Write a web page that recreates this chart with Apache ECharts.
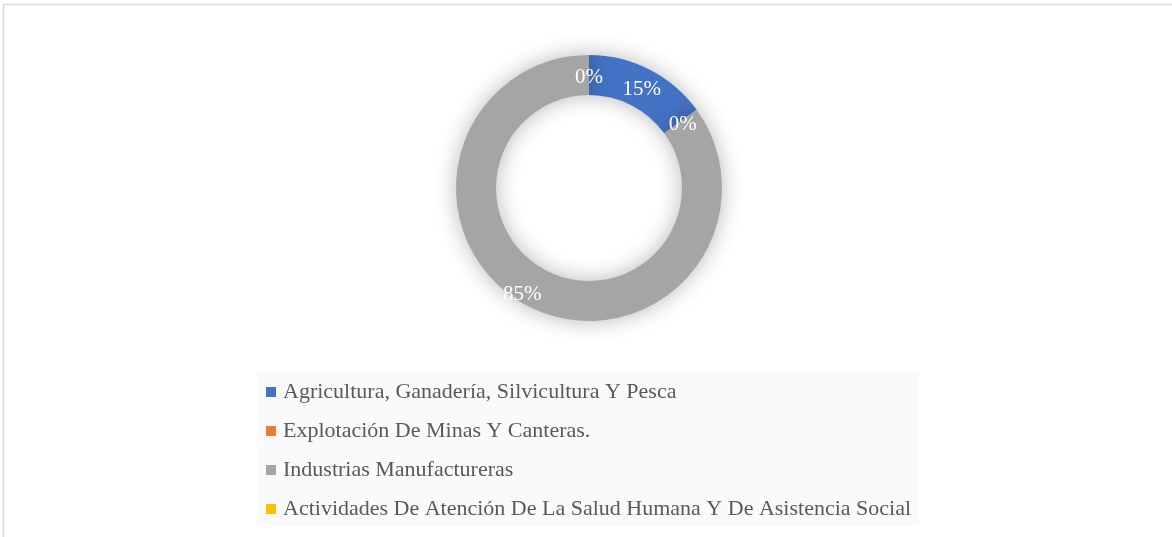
<!DOCTYPE html>
<html><head><meta charset="utf-8">
<script src="https://cdn.jsdelivr.net/npm/echarts@6/dist/echarts.min.js"></script>
<style>html,body{margin:0;padding:0;background:#fff;}#c{width:1172px;height:537px;}</style>
</head><body><div id="c"></div>
<script>
const categories = [
  'Agricultura, Ganadería, Silvicultura Y Pesca',
  'Explotación De Minas Y Canteras.',
  'Industrias Manufactureras',
  'Actividades De Atención De La Salud Humana Y De Asistencia Social'
];
const values = [15, 0, 85, 0];
const colors = ['#4472c4', '#ed7d31', '#a5a5a5', '#ffc000'];

const chart = echarts.init(document.getElementById('c'));
chart.setOption({
  animation: false,
  backgroundColor: '#fff',
  graphic: [
    { type: 'rect', shape: { x: 3.5, y: 4.5, width: 1180, height: 540 }, style: { fill: 'none', stroke: '#d9d9d9', lineWidth: 1.5 }, z: -10 },
    { type: 'rect', shape: { x: 257, y: 371, width: 662, height: 155 }, style: { fill: '#fafafa' }, z: -5 }
  ],
  legend: {
    orient: 'vertical',
    left: 266,
    top: 381,
    itemWidth: 10,
    itemHeight: 10,
    itemGap: 17,
    icon: 'rect',
    padding: 0,
    textStyle: { fontFamily: 'Liberation Serif', fontSize: 22, color: '#595959', padding: [0, 0, 0, 2] },
    data: categories
  },
  series: [{
    type: 'pie',
    center: [589, 188],
    radius: [93, 133],
    startAngle: 90,
    clockwise: true,
    avoidLabelOverlap: false,
    label: {
      show: true,
      position: 'inside',
      color: '#fff',
      fontFamily: 'Liberation Serif',
      fontSize: 21,
      formatter: p => Math.round(p.percent) + '%'
    },
    labelLayout: function (p) { return p.dataIndex === 2 ? { dx: -14, dy: 3 } : { dy: 5 }; },
    labelLine: { show: false },
    itemStyle: { shadowBlur: 22, shadowColor: 'rgba(0,0,0,0.28)' },
    emphasis: { disabled: true },
    data: categories.map((n, i) => ({ name: n, value: values[i], itemStyle: { color: colors[i] } }))
  }]
});
</script></body></html>
